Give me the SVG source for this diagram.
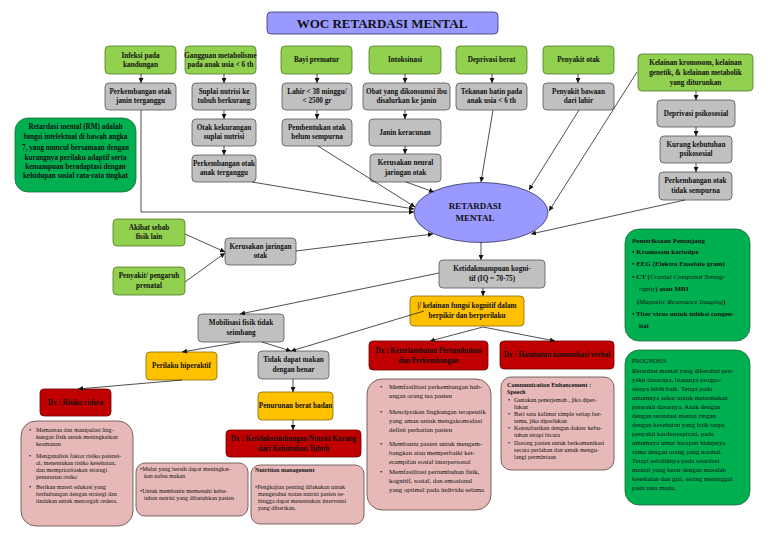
<svg xmlns="http://www.w3.org/2000/svg" width="768" height="543" viewBox="0 0 768 543">
<defs>
<marker id="a" viewBox="0 0 6 6" refX="6" refY="3" markerWidth="5" markerHeight="5" markerUnits="userSpaceOnUse" orient="auto"><path d="M0,0 L6,3 L0,6 z" fill="#111"/></marker>
<style>
.g{fill:#92d050;stroke:#4f7a25;stroke-width:0.8}
.gr{fill:#c0c0c0;stroke:#555;stroke-width:0.8}
.dg{fill:#00b050;stroke:#1d6b36;stroke-width:0.8}
.y{fill:#ffc000;stroke:#8a6a00;stroke-width:0.8}
.r{fill:#c00000;stroke:#6e0000;stroke-width:0.8}
.p{fill:#e6b9b8;stroke:#5a4545;stroke-width:0.8}
.lv{fill:#9999ff;stroke:#333366;stroke-width:0.8}
text{font-family:"Liberation Serif","Times New Roman",serif;fill:#111}
.t{font-size:7.2px;font-weight:bold;text-anchor:middle}
.s{font-size:6.8px}
.pe{font-size:7px}
.sm{font-size:6.1px}
.b{font-weight:bold}
.i{font-style:italic;font-weight:normal}
.c line,.c path{stroke:#222;stroke-width:0.8;fill:none;marker-end:url(#a)}
</style>
</defs>
<rect width="768" height="543" fill="#fff"/>

<g id="title"><rect class="lv" x="267" y="12" width="231" height="22" rx="4"/><text x="382" y="28" font-size="13" font-weight="bold" text-anchor="middle">WOC RETARDASI MENTAL</text></g>

<g id="infeksi"><rect class="g" x="105" y="46" width="71" height="28" rx="4"/><text class="t" x="140.5" y="58">Infeksi pada</text><text class="t" x="140.5" y="67">kandungan</text></g>
<g id="gangguan"><rect class="g" x="185" y="46" width="71" height="28" rx="4"/><text class="t" x="220.5" y="58">Gangguan metabolisme</text><text class="t" x="220.5" y="67">pada anak usia &lt; 6 th</text></g>
<g id="bayi"><rect class="g" x="281" y="46" width="71" height="28" rx="4"/><text class="t" x="316.5" y="62">Bayi prematur</text></g>
<g id="intoksinasi"><rect class="g" x="369" y="46" width="72" height="28" rx="4"/><text class="t" x="405" y="62">Intoksinasi</text></g>
<g id="deprivasi"><rect class="g" x="456" y="46" width="71" height="28" rx="4"/><text class="t" x="491.5" y="62">Deprivasi berat</text></g>
<g id="penyakitotak"><rect class="g" x="543" y="46" width="71" height="28" rx="4"/><text class="t" x="578.5" y="62">Penyakit otak</text></g>
<g id="kelainan"><rect class="g" x="638" y="54" width="115" height="37" rx="4"/><text class="t" x="695.5" y="65">Kelainan kromosom, kelainan</text><text class="t" x="695.5" y="75">genetik, &amp; kelainan metabolik</text><text class="t" x="695.5" y="85">yang diturunkan</text></g>

<g id="perkjanin"><rect class="gr" x="105" y="83" width="71" height="27" rx="4"/><text class="t" x="140.5" y="94">Perkembangan otak</text><text class="t" x="140.5" y="103">janin terganggu</text></g>
<g id="suplai"><rect class="gr" x="192" y="83" width="64" height="27" rx="4"/><text class="t" x="224" y="94">Suplai nutrisi ke</text><text class="t" x="224" y="103">tubuh berkurang</text></g>
<g id="lahir"><rect class="gr" x="282" y="83" width="70" height="27" rx="4"/><text class="t" x="317" y="94">Lahir &lt; 38 minggu/</text><text class="t" x="317" y="103">&lt; 2500 gr</text></g>
<g id="obat"><rect class="gr" x="363" y="83" width="87" height="27" rx="4"/><text class="t" x="406.5" y="94">Obat yang dikonsumsi ibu</text><text class="t" x="406.5" y="103">disalurkan ke janin</text></g>
<g id="tekanan"><rect class="gr" x="456" y="83" width="71" height="27" rx="4"/><text class="t" x="491.5" y="94">Tekanan batin pada</text><text class="t" x="491.5" y="103">anak usia &lt; 6 th</text></g>
<g id="bawaan"><rect class="gr" x="543" y="83" width="71" height="27" rx="4"/><text class="t" x="578.5" y="94">Penyakit bawaan</text><text class="t" x="578.5" y="103">dari lahir</text></g>

<g id="deprivpsiko"><rect class="gr" x="657" y="100" width="78" height="27" rx="4"/><text class="t" x="696" y="116">Deprivasi psikososial</text></g>
<g id="kurang"><rect class="gr" x="660" y="136" width="72" height="27" rx="4"/><text class="t" x="696" y="147">Kurang kebutuhan</text><text class="t" x="696" y="156">psikososial</text></g>
<g id="perktidak"><rect class="gr" x="659" y="172" width="73" height="28" rx="4"/><text class="t" x="695.5" y="183">Perkembangan otak</text><text class="t" x="695.5" y="193">tidak sempurna</text></g>

<g id="otakkurang"><rect class="gr" x="192" y="119" width="64" height="27" rx="4"/><text class="t" x="224" y="130">Otak kekurangan</text><text class="t" x="224" y="139">suplai nutrisi</text></g>
<g id="pembentukan"><rect class="gr" x="282" y="119" width="70" height="27" rx="4"/><text class="t" x="317" y="130">Pembentukan otak</text><text class="t" x="317" y="139">belum sempurna</text></g>
<g id="keracunan"><rect class="gr" x="369" y="119" width="72" height="27" rx="4"/><text class="t" x="405" y="135">Janin keracunan</text></g>
<g id="perkanak"><rect class="gr" x="192" y="155" width="64" height="27" rx="4"/><text class="t" x="224" y="166">Perkembangan otak</text><text class="t" x="224" y="175">anak terganggu</text></g>
<g id="kerusakan1"><rect class="gr" x="370" y="154" width="71" height="28" rx="4"/><text class="t" x="405.5" y="165">Kerusakan neural</text><text class="t" x="405.5" y="175">jaringan otak</text></g>

<g id="definisi"><rect class="dg" x="15" y="118" width="121" height="74" rx="13"/>
<text class="t" x="75.5" y="129">Retardasi mental (RM) adalah</text>
<text class="t" x="75.5" y="139">fungsi intelektual di bawah angka</text>
<text class="t" x="75.5" y="150">7, yang muncul bersamaan dengan</text>
<text class="t" x="75.5" y="160">kurangnya perilaku adaptif serta</text>
<text class="t" x="75.5" y="169">kemampuan beradaptasi dengan</text>
<text class="t" x="75.5" y="178">kehidupan sosial rata-rata tingkat</text></g>

<g id="rm"><ellipse class="lv" cx="481" cy="212.5" rx="67" ry="30"/><text x="475" y="209" font-size="9" font-weight="bold" text-anchor="middle">RETARDASI</text><text x="475" y="221" font-size="9" font-weight="bold" text-anchor="middle">MENTAL</text></g>

<g id="akibat"><rect class="g" x="113" y="219" width="72" height="27" rx="4"/><text class="t" x="149" y="230">Akibat sebab</text><text class="t" x="149" y="239">fisik lain</text></g>
<g id="prenatal"><rect class="g" x="113" y="267" width="72" height="28" rx="4"/><text class="t" x="149" y="278">Penyakit/ pengaruh</text><text class="t" x="149" y="288">prenatal</text></g>
<g id="kerusakan2"><rect class="gr" x="225" y="238" width="71" height="27" rx="4"/><text class="t" x="260.5" y="249">Kerusakan jaringan</text><text class="t" x="260.5" y="258">otak</text></g>

<g id="iq"><rect class="gr" x="439" y="260" width="106" height="28" rx="4"/><text class="t" x="492" y="271">Ketidakmampuan kogni-</text><text class="t" x="492" y="281">tif (IQ = 70-75)</text></g>
<g id="kognitif"><rect class="y" x="410" y="296" width="114" height="30" rx="4"/><text class="t" x="467" y="308">|/ kelainan fungsi kognitif dalam</text><text class="t" x="467" y="318">berpikir dan berperilaku</text></g>
<g id="mobilisasi"><rect class="gr" x="198" y="314" width="86" height="28" rx="4"/><text class="t" x="241" y="325">Mobilisasi fisik tidak</text><text class="t" x="241" y="335">seimbang</text></g>
<g id="hiperaktif"><rect class="y" x="146" y="352" width="71" height="28" rx="4"/><text class="t" x="181.5" y="368">Perilaku hiperaktif</text></g>
<g id="makan"><rect class="gr" x="258" y="351" width="71" height="28" rx="4"/><text class="t" x="293.5" y="362">Tidak dapat makan</text><text class="t" x="293.5" y="372">dengan benar</text></g>
<g id="dxtumbuh"><rect class="r" x="369" y="341" width="119" height="29" rx="4"/><text class="t" x="428.5" y="353">Dx : Keterlambatan Pertumbuhan</text><text class="t" x="428.5" y="363">dan Perkembangan</text></g>
<g id="dxkom"><rect class="r" x="500" y="341" width="114" height="28" rx="4"/><text class="t" x="557" y="357">Dx : Hambatan komunikasi verbal</text></g>
<g id="dxcidera"><rect class="r" x="40" y="389" width="71" height="27" rx="4"/><text class="t" x="75.5" y="405">Dx : Risiko cidera</text></g>
<g id="bb"><rect class="y" x="258" y="392" width="75" height="28" rx="4"/><text class="t" x="295.5" y="408">Penurunan berat badan</text></g>
<g id="dxnutrisi"><rect class="r" x="226" y="430" width="135" height="27" rx="4"/><text class="t" x="293.5" y="441">Dx : Ketidakseimbangan Nutrisi Kurang</text><text class="t" x="293.5" y="451">dari Kebutuhan Tubuh</text></g>

<g id="intcidera"><rect class="p" x="21" y="421" width="112" height="105" rx="15"/>
<g class="sm"><text x="29" y="432">•</text><text x="36" y="432">Memantau dan manipulasi ling-</text><text x="36" y="439">kungan fisik untuk meningkatkan</text><text x="36" y="446">keamanan</text>
<text x="29" y="458">•</text><text x="36" y="458">Menganalisis faktor risiko potensi-</text><text x="36" y="465">al, menentukan risiko kesehatan,</text><text x="36" y="472">dan memprioritaskan strategi</text><text x="36" y="479">penurunan risiko</text>
<text x="29" y="489">•</text><text x="36" y="489">Berikan materi edukasi yang</text><text x="36" y="496">berhubungan dengan strategi dan</text><text x="36" y="503">tindakan untuk mencegah cedera.</text></g></g>

<g id="intmakan"><rect class="p" x="136" y="463" width="112" height="53" rx="9"/>
<g class="sm"><text x="140" y="471">•Mulut yang bersih dapat meningkat-</text><text x="144" y="478">kan nafsu makan</text><text x="140" y="493">•Untuk membantu memenuhi kebu-</text><text x="144" y="500">tuhan nutrisi yang dibutuhkan pasien</text></g></g>

<g id="intnutrisi"><rect class="p" x="251" y="465" width="113" height="59" rx="9"/>
<g class="sm"><text x="255" y="472" class="b">Nutrition management</text><text x="255" y="489">•Pengkajian penting dilakukan untuk</text><text x="258" y="496">mengetahui status nutrisi pasien se-</text><text x="258" y="503">hingga dapat menentukan intervensi</text><text x="258" y="510">yang diberikan.</text></g></g>

<g id="inttumbuh"><rect class="p" x="367" y="379" width="124" height="131" rx="15"/>
<g class="s"><text x="380" y="389">•</text><text x="389" y="389">Memfasilitasi perkembangan hub-</text><text x="389" y="398">ungan orang tua pasien</text>
<text x="380" y="414">•</text><text x="389" y="414">Menciptakan lingkungan terapeutik</text><text x="389" y="423">yang aman untuk mengakomodasi</text><text x="389" y="432">defisit perhatian pasien</text>
<text x="380" y="446">•</text><text x="389" y="446">Membantu pasien untuk mengem-</text><text x="389" y="455">bangkan atau memperbaiki ket-</text><text x="389" y="464">erampilan sosial interpersonal</text>
<text x="380" y="474">•</text><text x="389" y="474">Memfasilitasi pertumbuhan fisik,</text><text x="389" y="483">kognitif, sosial, dan emosional</text><text x="389" y="492">yang optimal pada individu selama</text></g></g>

<g id="intkom"><rect class="p" x="501" y="377" width="113" height="93" rx="10"/>
<g font-size="6.2"><text x="507" y="387" class="b">Communication Enhancement :</text><text x="507" y="394" class="b">Speech</text>
<text x="508" y="402">•</text><text x="514" y="402">Gunakan penerjemah , jika diper-</text><text x="514" y="408.5">lukan</text>
<text x="508" y="415.5">•</text><text x="514" y="415.5">Beri satu kalimat simple setiap ber-</text><text x="514" y="422.5">temu, jika diperlukan</text>
<text x="508" y="430">•</text><text x="514" y="430">Konsultasikan dengan dokter kebu-</text><text x="514" y="437">tuhan terapi bicara</text>
<text x="508" y="445">•</text><text x="514" y="445">Dorong pasien untuk berkomunikasi</text><text x="514" y="452">secara perlahan dan untuk mengu-</text><text x="514" y="459">langi permintaan</text></g></g>

<g id="penunjang"><rect class="dg" x="625" y="229" width="125" height="112" rx="14"/>
<g class="pe b"><text x="632" y="243">Pemeriksaan Penunjang</text>
<text x="632" y="254">• Kromosom kariotipe</text>
<text x="632" y="266">• EEG (Elektro Ensefalo gram)</text>
<text x="632" y="279">• CT (<tspan class="i">Cranial Computed Tomog-</tspan></text>
<text x="639" y="291"><tspan class="i">raphy</tspan>) atau MRI</text>
<text x="637" y="304">(<tspan class="i">Magnetic Resonance Imaging</tspan>)</text>
<text x="632" y="316">• Titer virus untuk infeksi congen-</text>
<text x="639" y="328">ital</text></g></g>

<g id="prognosis"><rect class="dg" x="625" y="350" width="125" height="155" rx="14"/>
<g class="s"><text x="632" y="363" font-size="6.2">PROGNOSIS</text>
<text x="632" y="373">Retardasi mental yang diketahui pen-</text>
<text x="632" y="382">yakit dasarnya, biasanya progno-</text>
<text x="632" y="391">sisnya lebih baik. Tetapi pada</text>
<text x="632" y="400">umumnya sukar untuk menemukan</text>
<text x="632" y="409">penyakit dasarnya. Anak dengan</text>
<text x="632" y="418">dengan retardasi mental ringan</text>
<text x="632" y="427">dengan kesehatan yang baik tanpa</text>
<text x="632" y="436">penyakit kardiorespirasi, pada</text>
<text x="632" y="445">umumnya umur harapan hidupnya</text>
<text x="632" y="454">sama dengan orang yang normal.</text>
<text x="632" y="463">Tetapi sebaliknya pada retardasi</text>
<text x="632" y="472">mental yang berat dengan masalah</text>
<text x="632" y="481">kesehatan dan gizi, sering meninggal</text>
<text x="632" y="490">pada usia muda.</text></g></g>

<g id="connectors" class="c">
<line x1="141" y1="74" x2="141" y2="83"/>
<line x1="224" y1="74" x2="224" y2="83"/>
<line x1="224" y1="110" x2="224" y2="119"/>
<line x1="224" y1="146" x2="224" y2="155"/>
<line x1="317" y1="74" x2="317" y2="83"/>
<line x1="317" y1="110" x2="317" y2="119"/>
<line x1="405" y1="74" x2="405" y2="83"/>
<line x1="405" y1="110" x2="405" y2="119"/>
<line x1="405" y1="146" x2="405" y2="154"/>
<line x1="492" y1="74" x2="492" y2="83"/>
<line x1="578" y1="74" x2="578" y2="83"/>
<line x1="696" y1="91" x2="696" y2="100"/>
<line x1="696" y1="127" x2="696" y2="136"/>
<line x1="696" y1="163" x2="696" y2="172"/>
<path d="M141,110 V212 H414"/>
<line x1="252" y1="182" x2="414" y2="209"/>
<line x1="318" y1="146" x2="415" y2="207"/>
<line x1="406" y1="182" x2="434" y2="192"/>
<line x1="493" y1="110" x2="481" y2="182"/>
<line x1="579" y1="110" x2="529" y2="190"/>
<line x1="637" y1="72" x2="549" y2="211"/>
<line x1="685" y1="200" x2="531" y2="234"/>
<line x1="296" y1="251" x2="433" y2="234"/>
<line x1="185" y1="234" x2="225" y2="252"/>
<line x1="185" y1="282" x2="225" y2="253"/>
<line x1="481" y1="242" x2="481" y2="260"/>
<line x1="483" y1="288" x2="483" y2="296"/>
<line x1="439" y1="273" x2="240" y2="314"/>
<line x1="240" y1="342" x2="182" y2="352"/>
<line x1="262" y1="342" x2="291" y2="351"/>
<line x1="424" y1="311" x2="291" y2="351"/>
<line x1="483" y1="327" x2="430" y2="341"/>
<line x1="483" y1="327" x2="555" y2="341"/>
<line x1="182" y1="380" x2="78" y2="389"/>
<line x1="293" y1="379" x2="293" y2="392"/>
<line x1="293" y1="420" x2="293" y2="430"/>
</g>
</svg>
